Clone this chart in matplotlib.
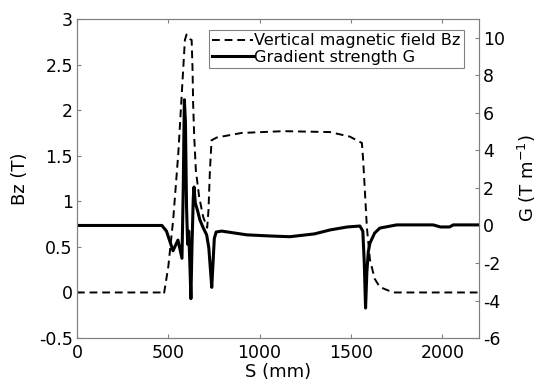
import matplotlib.pyplot as plt
import numpy as np

# vertical field Bz (left axis)
s_bz = [0, 300, 460, 476, 500, 527, 555, 573, 591, 600, 619, 628, 633, 636, 642, 651,
        669, 691, 713, 720, 728, 737, 765, 900, 1130, 1385, 1494, 1560, 1567, 1587,
        1604, 1630, 1658, 1730, 2200]
bz = [0, 0, 0, -0.02, 0.28, 0.8, 1.53, 2.15, 2.77, 2.83, 2.78, 2.77, 2.44, 2.08, 1.71, 1.34,
      1.05, 0.83, 0.71, 0.9, 1.34, 1.67, 1.70, 1.75, 1.77, 1.76, 1.71, 1.64, 1.45, 0.72,
      0.36, 0.15, 0.06, 0.0, 0.0]

# gradient strength G (right axis)
s_g = [0, 465, 490, 526, 553, 575, 582, 588, 594, 600, 606, 612, 618, 624, 630, 637, 641,
       648, 660, 673, 690, 710, 722, 732, 738, 745, 752, 762, 792, 930, 1056, 1165, 1300,
       1385, 1480, 1549, 1565, 1573, 1580, 1587, 1595, 1604, 1630, 1658, 1750, 1950,
       1990, 2040, 2060, 2200]
g = [0, 0, -0.3, -1.35, -0.78, -1.75, 2.0, 6.7, 5.5, 1.0, -1.0, -0.3, -2.0, -3.9, -1.0, 1.5, 2.05,
     1.2, 0.8, 0.3, -0.1, -0.5, -1.2, -2.5, -3.3, -2.0, -0.7, -0.35, -0.3, -0.5, -0.56, -0.6, -0.45,
     -0.24, -0.08, -0.03, -0.3, -2.0, -4.4, -2.5, -1.4, -0.94, -0.4, -0.14, 0.03, 0.03,
     -0.08, -0.08, 0.03, 0.03]

plt.rcParams['font.family'] = 'DejaVu Sans'
fig = plt.figure(figsize=(5.38, 3.89), dpi=100)
ax = fig.add_axes([0.143, 0.131, 0.747, 0.82])
ax2 = ax.twinx()

l1, = ax.plot(s_bz, bz, color='black', lw=1.4, linestyle=(0, (4, 2.5)),
              label='Vertical magnetic field Bz')
l2, = ax2.plot(s_g, g, color='black', lw=2.2, label='Gradient strength G')

ax.set_xlim(0, 2200)
ax.set_ylim(-0.5, 3)
ax2.set_ylim(-6, 11)
ax.set_xticks([0, 500, 1000, 1500, 2000])
ax.set_yticks([-0.5, 0, 0.5, 1, 1.5, 2, 2.5, 3])
ax.set_yticklabels(['-0.5', '0', '0.5', '1', '1.5', '2', '2.5', '3'])
ax2.set_yticks([-6, -4, -2, 0, 2, 4, 6, 8, 10])
ax2.set_yticklabels(['-6', '-4', '-2', '0', '2', '4', '6', '8', '10'])

spine_col = '#808080'
for a in (ax, ax2):
    for sp in a.spines.values():
        sp.set_color(spine_col)
        sp.set_linewidth(0.8)
ax.tick_params(axis='x', direction='in', top=True, length=3, color=spine_col,
               labelsize=12.5, pad=4)
ax.tick_params(axis='y', direction='in', length=3, color=spine_col, labelsize=12.5, pad=3)
ax2.tick_params(axis='y', direction='in', length=3, color=spine_col, labelsize=12.5, pad=3)

ax.set_xlabel('S (mm)', fontsize=13, labelpad=1)
ax.set_ylabel('Bz (T)', fontsize=13, labelpad=7)
ax2.set_ylabel('G (T m$^{-1}$)', fontsize=13, labelpad=8)

leg = ax2.legend(handles=[l1, l2], loc='upper right', fontsize=11.6, fancybox=False,
                 edgecolor=spine_col, framealpha=1, handlelength=2.5, handletextpad=0.1,
                 borderpad=0.2, labelspacing=0.1, borderaxespad=0.6,
                 bbox_to_anchor=(0.987, 0.996))
leg.get_frame().set_linewidth(0.8)

fig.savefig('out.png', dpi=100)
